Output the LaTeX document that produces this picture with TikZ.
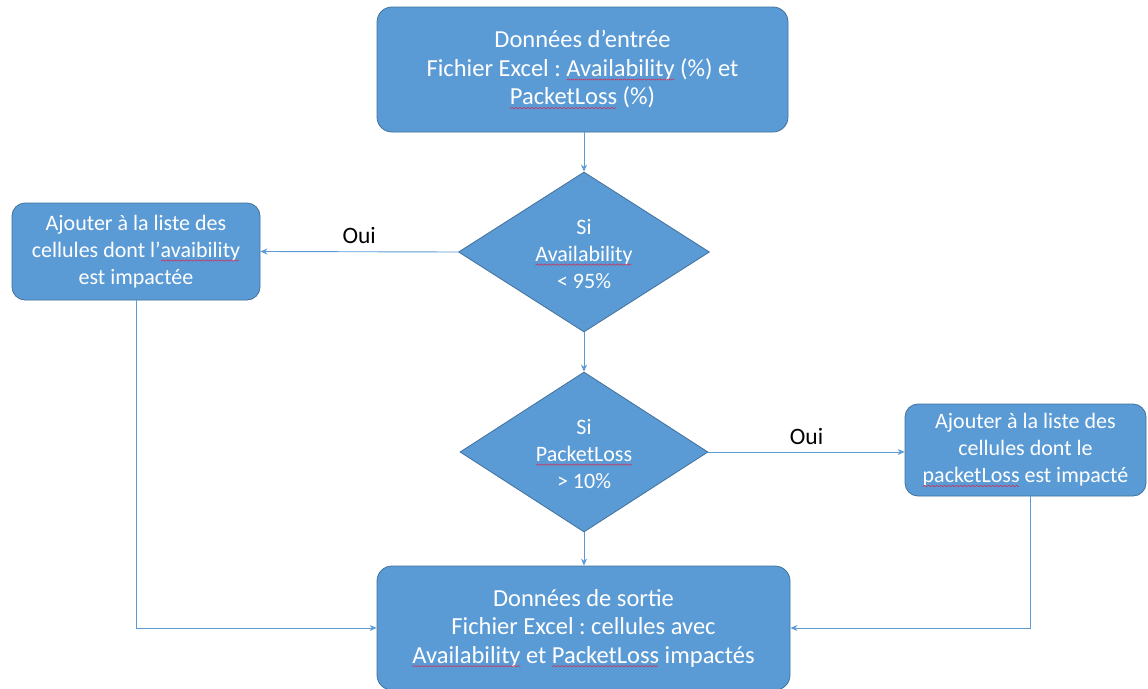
\documentclass[tikz,border=0pt]{standalone}
\usepackage{fontspec}
\setmainfont{Carlito}
\frenchspacing
\usetikzlibrary{shapes.geometric,arrows.meta}
\definecolor{boxfill}{HTML}{5B9BD5}
\definecolor{boxline}{HTML}{41719C}
\definecolor{wire}{HTML}{5B9BD5}
\definecolor{squig}{HTML}{D0305A}
% spell-check style wavy underline below a word
\newsavebox\sqbox
\newlength\sqw
\newcommand\sq[1]{%
  \sbox\sqbox{#1}\setlength\sqw{\wd\sqbox}%
  \rlap{\usebox\sqbox}%
  \begin{tikzpicture}[baseline=0pt,x=1pt,y=1pt,sharp corners]
    \pgfmathtruncatemacro\sqn{\sqw/2}
    \path[use as bounding box] (0,0) rectangle (\sqw,1);
    \draw[squig, line width=0.6pt, line join=round]
      (0,-3.8) \foreach \k in {1,...,\sqn}{ -- (\k*2, {-3.8+mod(\k,2)*1.3}) };
  \end{tikzpicture}}
\tikzset{
  box/.style={draw=boxline, line width=0.8pt, fill=boxfill, rounded corners=15pt,
    text=white, align=center, font=\fontsize{24.5}{28.5}\selectfont, inner sep=0pt},
  sidebox/.style={box, rounded corners=13pt, font=\fontsize{22}{27}\selectfont},
  dia/.style={draw=boxline, line width=0.8pt, fill=boxfill, diamond, inner sep=0pt},
  diatext/.style={text=white, align=center, font=\fontsize{22}{27}\selectfont},
  wire/.style={draw=wire, line width=0.9pt, -{Stealth[length=7pt,width=6pt]}},
  yes/.style={text=black, font=\fontsize{23.5}{26}\selectfont}
}
\begin{document}
\begin{tikzpicture}[x=1pt, y=-1pt]
\useasboundingbox (0,0) rectangle (1148,688);
% input data
\node[box, minimum width=411pt, minimum height=125pt] (in) at (582.5,69.5)
  {Données d’entrée\\Fichier Excel : \sq{Availability} (\%) et\\\sq{PacketLoss} (\%)};
% first test
\node[dia, minimum width=251pt, minimum height=160pt] (d1) at (584,252) {};
\node[diatext] (d1t) at (584,254) {Si\\\sq{Availability}\\< 95\%};
% second test
\node[dia, minimum width=248pt, minimum height=160pt] (d2) at (584,452) {};
\node[diatext] (d2t) at (584,454) {Si\\\sq{PacketLoss}\\> 10\%};
% side actions
\node[sidebox, minimum width=248pt, minimum height=97pt] (la) at (136,251.5)
  {Ajouter à la liste des\\cellules dont l’\sq{avaibility}\\est impactée};
\node[sidebox, minimum width=241pt, minimum height=92pt] (ra) at (1025.5,450)
  {Ajouter à la liste des\\cellules dont le\\\sq{packetLoss} est impacté};
% output data
\node[box, minimum width=413pt, minimum height=124pt] (out) at (583.5,628)
  {Données de sortie\\Fichier Excel : cellules avec\\\sq{Availability} et \sq{PacketLoss} impactés};
% connectors
\coordinate (lturn) at (la.south |- out.west);
\coordinate (rturn) at (1030,628);
\draw[wire] (in.south -| d1.north) -- (d1.north);
\draw[wire] (d1.west) -- (la.east) node[yes, pos=0.5, above=4pt] (oui1) {Oui};
\draw[wire] (d1.south) -- (d2.north);
\draw[wire] (d2.east) -- (ra.west |- d2.east) node[yes, pos=0.5, above=4pt] (oui2) {Oui};
\draw[wire] (d2.south) -- (out.north -| d2.south);
\draw[wire] (la.south) -- (lturn) -- (out.west);
\draw[wire] (ra.south -| rturn) -- (rturn) -- (out.east);
\end{tikzpicture}
\end{document}
